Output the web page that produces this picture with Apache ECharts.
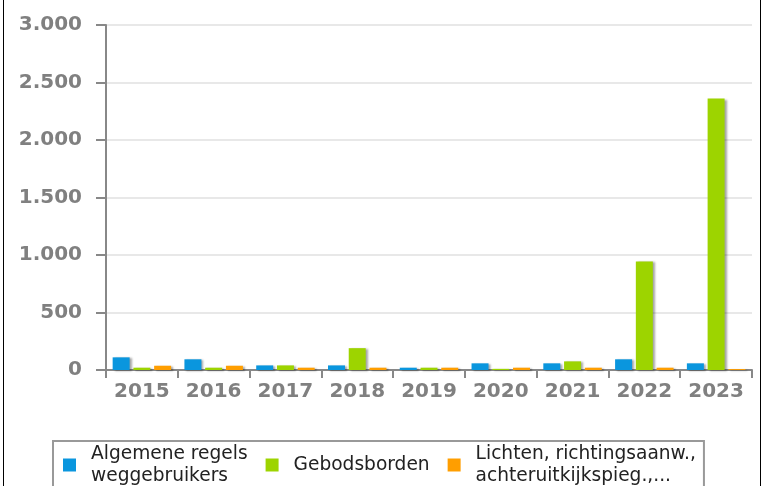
<!DOCTYPE html>
<html>
<head>
<meta charset="utf-8">
<script src="https://cdn.jsdelivr.net/npm/echarts@6/dist/echarts.min.js"></script>
<style>html,body{margin:0;padding:0;background:#fff;}#c{width:765px;height:486px;}</style>
</head>
<body>
<div id="c"></div>
<script>
const categories = ['2015','2016','2017','2018','2019','2020','2021','2022','2023'];
const seriesNames = ['Algemene regels\nweggebruikers', 'Gebodsborden', 'Lichten, richtingsaanw.,\nachteruitkijkspieg.,...'];
const algemene = [110, 93, 40, 40, 20, 58, 58, 93, 58];
const gebodsborden = [20, 20, 40, 190, 20, 10, 75, 944, 2360];
const lichten = [37, 37, 20, 20, 20, 20, 20, 20, 8];
const colors = ['#0a96de', '#9dd400', '#ff9e00'];
const yTicks = [0, 500, 1000, 1500, 2000, 2500, 3000];

const chart = echarts.init(document.getElementById('c'), null, {renderer: 'canvas'});
function fmt(v){ return String(v).replace(/\B(?=(\d{3})+(?!\d))/g, '.'); }
const barStyle = (c) => ({
  color: c,
  shadowColor: 'rgba(0,0,0,0.35)',
  shadowBlur: 2,
  shadowOffsetX: 2,
  shadowOffsetY: 1
});
const mk = (name, data, c) => ({
  name: name, type: 'bar', data: data, barWidth: 17, barGap: '22%',
  itemStyle: barStyle(c)
});
chart.setOption({
  animation: false,
  color: colors,
  grid: {left: 106, right: 13, top: 25, bottom: 116, containLabel: false},
  xAxis: {
    type: 'category', data: categories,
    axisLine: {lineStyle: {color: '#888', width: 2}},
    axisTick: {show: true, length: 8, lineStyle: {color: '#888', width: 2}},
    axisLabel: {interval: 0, color: '#808080', fontFamily: 'DejaVu Sans', fontWeight: 'bold', fontSize: 20, margin: 12}
  },
  yAxis: {
    type: 'value', min: yTicks[0], max: yTicks[yTicks.length-1], interval: 500,
    axisLine: {show: true, lineStyle: {color: '#888', width: 2}},
    axisTick: {show: true, length: 10, lineStyle: {color: '#888', width: 2}},
    splitLine: {lineStyle: {color: '#e8e8e8', width: 2}},
    axisLabel: {color: '#808080', fontFamily: 'DejaVu Sans', fontWeight: 'bold', fontSize: 20, margin: 24, formatter: fmt}
  },
  legend: {
    left: 53, top: 441, orient: 'horizontal',
    borderColor: '#999', borderWidth: 2,
    padding: [2, 8, 12, 10],
    itemGap: 18,
    icon: 'rect', itemWidth: 13, itemHeight: 13,
    textStyle: {fontFamily: 'DejaVu Sans', fontSize: 18.6, color: '#222', lineHeight: 22, padding: [0, 0, 0, 10]},
    data: seriesNames
  },
  graphic: [
    {type: 'line', shape: {x1: 3.5, y1: 0, x2: 3.5, y2: 486}, style: {stroke: '#000', lineWidth: 1}},
    {type: 'line', shape: {x1: 760.5, y1: 0, x2: 760.5, y2: 486}, style: {stroke: '#000', lineWidth: 1}}
  ],
  series: [
    mk(seriesNames[0], algemene, colors[0]),
    mk(seriesNames[1], gebodsborden, colors[1]),
    mk(seriesNames[2], lichten, colors[2])
  ]
});
</script>
</body>
</html>
